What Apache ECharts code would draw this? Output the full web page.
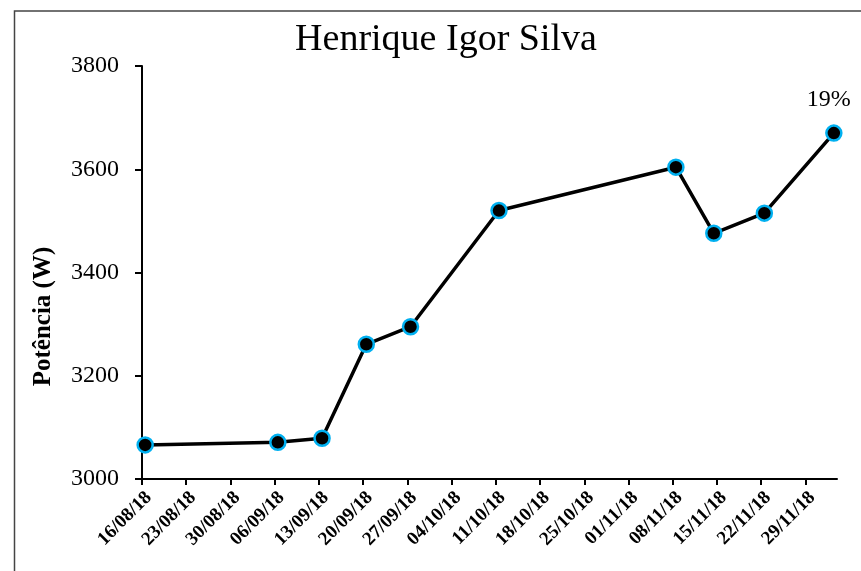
<!DOCTYPE html>
<html>
<head>
<meta charset="utf-8">
<script src="https://cdn.jsdelivr.net/npm/echarts@6/dist/echarts.min.js"></script>
<style>
html, body { margin: 0; padding: 0; background: #fff; }
#main { width: 861px; height: 571px; }
</style>
</head>
<body>
<div id="main"></div>
<script>
// dates of the tests (dd/mm/yy) and power in W
var dates = ['16/08/18', '06/09/18', '13/09/18', '20/09/18', '27/09/18', '11/10/18', '08/11/18', '14/11/18', '22/11/18', '03/12/18']
var potencia = [3066, 3071, 3079, 3261, 3295, 3520, 3604, 3476, 3515, 3670]
var tickDates = ['16/08/18', '23/08/18', '30/08/18', '06/09/18', '13/09/18', '20/09/18', '27/09/18', '04/10/18',
  '11/10/18', '18/10/18', '25/10/18', '01/11/18', '08/11/18', '15/11/18', '22/11/18', '29/11/18']
var ganho = '19%'

var DAY = 86400000
var HALF = DAY / 2
function toTime (s) {
  var p = s.split('/')
  return Date.UTC(2000 + Number(p[2]), Number(p[1]) - 1, Number(p[0]))
}
function pad (n) { return n < 10 ? '0' + n : '' + n }
function fmt (v) {
  // ticks sit on the day boundary, label shows the day that starts there
  var d = new Date(v + HALF)
  return pad(d.getUTCDate()) + '/' + pad(d.getUTCMonth() + 1) + '/' + pad(d.getUTCFullYear() % 100)
}

var ticks = tickDates.map(function (d) { return toTime(d) - HALF })
var data = dates.map(function (d, i) {
  var item = { value: [toTime(d), potencia[i]] }
  if (i === dates.length - 1) {
    item.label = { show: true, formatter: ganho }
  }
  return item
})

var chart = echarts.init(document.getElementById('main'))
chart.setOption({
  backgroundColor: '#fff',
  animation: false,
  title: {
    text: 'Henrique Igor Silva',
    left: 441,
    textAlign: 'center',
    top: 16,
    textStyle: { fontFamily: 'Liberation Serif', fontSize: 38, fontWeight: 'normal', color: '#000' }
  },
  graphic: [{
    type: 'rect',
    shape: { x: 14.5, y: 11, width: 900, height: 600 },
    style: { fill: 'none', stroke: '#444', lineWidth: 1.5 },
    silent: true
  }],
  grid: { left: 142, top: 66, right: 24, bottom: 92, containLabel: false },
  xAxis: {
    type: 'value',
    min: toTime(dates[0]) - HALF,
    max: toTime(dates[dates.length - 1]) + HALF,
    interval: 7 * DAY,
    splitLine: { show: false },
    axisLine: { lineStyle: { color: '#000', width: 2 } },
    axisTick: { show: true, length: 6, customValues: ticks, lineStyle: { color: '#000', width: 2 } },
    axisLabel: {
      customValues: ticks,
      rotate: 45,
      margin: 9,
      verticalAlign: 'top',
      formatter: fmt,
      fontFamily: 'Liberation Serif',
      fontWeight: 'bold',
      fontSize: 19,
      color: '#000'
    }
  },
  yAxis: {
    type: 'value',
    min: 3000,
    max: 3800,
    interval: 200,
    name: 'Potência (W)',
    nameLocation: 'middle',
    nameGap: 86,
    nameTextStyle: { fontFamily: 'Liberation Serif', fontWeight: 'bold', fontSize: 25, color: '#000', padding: [0, 88, 0, 0] },
    splitLine: { show: false },
    axisLine: { show: true, lineStyle: { color: '#000', width: 2 } },
    axisTick: { show: true, length: 7, lineStyle: { color: '#000', width: 2 } },
    axisLabel: {
      margin: 23,
      formatter: function (v) { return '' + v },
      fontFamily: 'Liberation Serif',
      fontSize: 24,
      color: '#000'
    }
  },
  series: [{
    type: 'line',
    data: data,
    lineStyle: { color: '#000', width: 3.5 },
    symbol: 'circle',
    symbolSize: 15,
    itemStyle: { color: '#000', borderColor: '#00b0f0', borderWidth: 2.5 },
    label: {
      show: false,
      position: 'top',
      distance: 13,
      offset: [-5, 0],
      fontFamily: 'Liberation Serif',
      fontSize: 24,
      color: '#000'
    }
  }]
})
</script>
</body>
</html>
